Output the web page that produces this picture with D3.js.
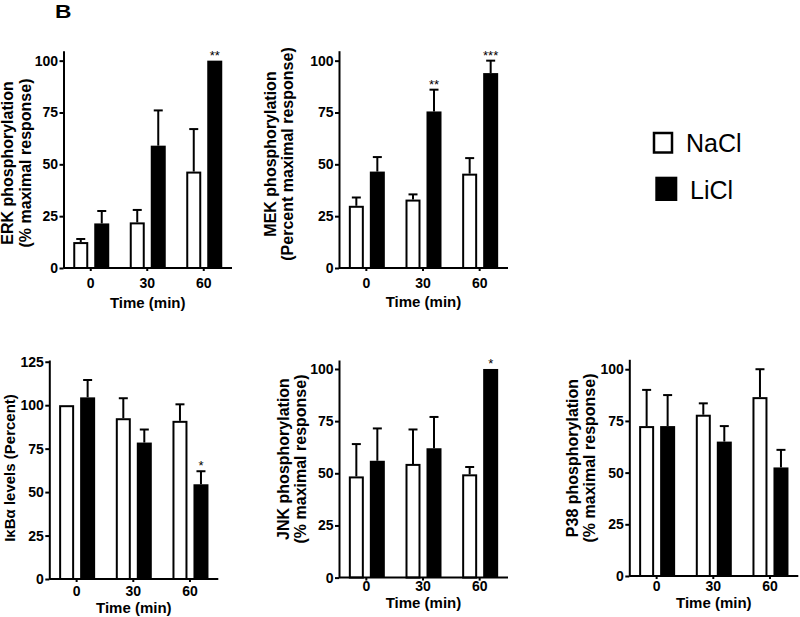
<!DOCTYPE html>
<html><head><meta charset="utf-8">
<script src="https://cdn.jsdelivr.net/npm/d3@7"></script>
<style>body{margin:0;background:#fff} svg{display:block;font-family:"Liberation Sans",Arial,sans-serif}</style>
</head><body>
<svg id="c" width="800" height="617"></svg>
<script>
// ---- data ----
const times = ["0", "30", "60"];
const groups = ["NaCl", "LiCl"];
const xTitle = "Time (min)";

const erkNaCl = [12.5, 22, 46.5];   const erkNaClErr = [1.5, 6, 20.5];
const erkLiCl = [21.5, 59, 100];    const erkLiClErr = [6, 17, 0];
const erkSig  = ["", "", "**"];

const mekNaCl = [30, 33, 45.5];     const mekNaClErr = [4, 2.5, 7.5];
const mekLiCl = [46.5, 75.5, 94];   const mekLiClErr = [7, 10.5, 6];
const mekSig  = ["", "**", "***"];

const ikbNaCl = [100, 92.5, 91];    const ikbNaClErr = [0, 11.5, 9.5];
const ikbLiCl = [104.5, 78.5, 54.5];const ikbLiClErr = [10, 7.5, 7.5];
const ikbSig  = ["", "", "*"];

const jnkNaCl = [48.5, 54.5, 49.5]; const jnkNaClErr = [15.5, 16.5, 3.5];
const jnkLiCl = [56, 62, 100];      const jnkLiClErr = [15.5, 15, 0];
const jnkSig  = ["", "", "*"];

const p38NaCl = [72.5, 78, 86.5];   const p38NaClErr = [17.5, 5.5, 13.5];
const p38LiCl = [72.5, 65, 52.5];   const p38LiClErr = [15, 7.5, 8.5];
const p38Sig  = ["", "", ""];

const ticks100 = [0, 25, 50, 75, 100];
const ticks125 = [0, 25, 50, 75, 100, 125];

// ---- layout ----
const panels = [
  {lab:["ERK phosphorylation","(% maximal response)"], nacl:erkNaCl, naclErr:erkNaClErr, licl:erkLiCl, liclErr:erkLiClErr, sig:erkSig, yTicks:ticks100,
   ymax:104.8, x0:63.5, x1:232, yb:268, yt:50.7, labX:[13.3,30.7], labY:163, labSize:16, tickBase:288, titleBase:307.5},
  {lab:["MEK phosphorylation","(Percent maximal response)"], nacl:mekNaCl, naclErr:mekNaClErr, licl:mekLiCl, liclErr:mekLiClErr, sig:mekSig, yTicks:ticks100,
   ymax:104.8, x0:339, x1:508, yb:268, yt:50.7, labX:[276,293], labY:154, labSize:16, tickBase:287.5, titleBase:307},
  {lab:["I\u03baB\u03b1 levels (Percent)"], nacl:ikbNaCl, naclErr:ikbNaClErr, licl:ikbLiCl, liclErr:ikbLiClErr, sig:ikbSig, yTicks:ticks125,
   ymax:126, x0:49.3, x1:218.3, yb:579, yt:360, labX:[15], labY:468, labSize:15, tickBase:595.5, titleBase:612.5},
  {lab:["JNK phosphorylation","(% maximal response)"], nacl:jnkNaCl, naclErr:jnkNaClErr, licl:jnkLiCl, liclErr:jnkLiClErr, sig:jnkSig, yTicks:ticks100,
   ymax:104.3, x0:339, x1:508, yb:577.6, yt:360, labX:[288.8,306], labY:459, labSize:16, tickBase:590.5, titleBase:607.5},
  {lab:["P38 phosphorylation","(% maximal response)"], nacl:p38NaCl, naclErr:p38NaClErr, licl:p38LiCl, liclErr:p38LiClErr, sig:p38Sig, yTicks:ticks100,
   ymax:104.8, x0:629.3, x1:798.3, yb:576, yt:359.3, labX:[578,595], labY:458, labSize:16, tickBase:590.5, titleBase:607.5}
];

const svg = d3.select("#c");

function drawPanel(p) {
  const g = svg.append("g");
  const x = d3.scaleBand().domain(times).range([p.x0 - 1, p.x1]).paddingInner(0).paddingOuter(0);
  const xs = d3.scaleBand().domain(groups).range([-17.5, 18.5]).paddingInner(6 / 21).paddingOuter(0);
  const y = d3.scaleLinear().domain([0, p.ymax]).range([p.yb, p.yt]);
  const bw = xs.bandwidth();
  const cx = t => x(t) + x.bandwidth() / 2;

  const rows = [];
  times.forEach((t, i) => {
    rows.push({t, s: "NaCl", v: p.nacl[i], e: p.naclErr[i]});
    rows.push({t, s: "LiCl", v: p.licl[i], e: p.liclErr[i]});
  });

  // bars
  g.selectAll("rect.bar").data(rows).join("rect")
    .attr("class", "bar")
    .attr("x", d => cx(d.t) + xs(d.s) + (d.s === "NaCl" ? 1 : 0))
    .attr("width", d => d.s === "NaCl" ? bw - 2 : bw)
    .attr("y", d => y(d.v) + (d.s === "NaCl" ? 1 : 0))
    .attr("height", d => p.yb - y(d.v) - (d.s === "NaCl" ? 1 : 0))
    .attr("fill", d => d.s === "NaCl" ? "#fff" : "#000")
    .attr("stroke", d => d.s === "NaCl" ? "#000" : "none")
    .attr("stroke-width", 2);

  // error bars (upper only)
  const eb = rows.filter(d => d.e > 0);
  g.selectAll("line.err").data(eb).join("line")
    .attr("class", "err")
    .attr("x1", d => cx(d.t) + xs(d.s) + bw / 2).attr("x2", d => cx(d.t) + xs(d.s) + bw / 2)
    .attr("y1", d => y(d.v)).attr("y2", d => y(d.v + d.e))
    .attr("stroke", "#000").attr("stroke-width", 2);
  g.selectAll("line.cap").data(eb).join("line")
    .attr("class", "cap")
    .attr("x1", d => cx(d.t) + xs(d.s) + bw / 2 - 4.5).attr("x2", d => cx(d.t) + xs(d.s) + bw / 2 + 4.5)
    .attr("y1", d => y(d.v + d.e)).attr("y2", d => y(d.v + d.e))
    .attr("stroke", "#000").attr("stroke-width", 2);

  // significance stars
  const sigRows = times.map((t, i) => ({t, s: p.sig[i], top: p.licl[i] + p.liclErr[i]})).filter(d => d.s);
  g.selectAll("text.sig").data(sigRows).join("text")
    .attr("class", "sig")
    .attr("x", d => cx(d.t) + xs("LiCl") + bw / 2)
    .attr("y", d => y(d.top) - 1)
    .attr("text-anchor", "middle")
    .attr("font-size", 13)
    .text(d => d.s);

  // y axis
  const ya = g.append("g").attr("transform", `translate(${p.x0},0)`)
    .call(d3.axisLeft(y).tickValues(p.yTicks).tickFormat(d3.format("d")).tickSize(4).tickPadding(1.5).tickSizeOuter(0));
  ya.select(".domain").attr("stroke-width", 2);
  ya.selectAll(".tick line").attr("stroke-width", 2);
  ya.selectAll(".tick text").attr("font-size", 14).attr("font-weight", "bold")
    .attr("font-family", '"Liberation Sans",Arial,sans-serif').attr("fill", "#000");

  // x axis
  const xa = g.append("g").attr("transform", `translate(0,${p.yb})`)
    .call(d3.axisBottom(x).tickSize(3).tickPadding(p.tickBase - p.yb - 3 - 9.94).tickSizeOuter(0));
  xa.select(".domain").remove();
  xa.append("line").attr("x1", p.x0).attr("x2", p.x1).attr("y1", 0).attr("y2", 0)
    .attr("stroke", "#000").attr("stroke-width", 2);
  xa.selectAll(".tick line").attr("stroke-width", 2);
  xa.selectAll(".tick text").attr("font-size", 14).attr("font-weight", "bold")
    .attr("font-family", '"Liberation Sans",Arial,sans-serif').attr("fill", "#000");

  // x title
  g.append("text").attr("x", (p.x0 + p.x1) / 2).attr("y", p.titleBase)
    .attr("text-anchor", "middle").attr("font-size", 15).attr("font-weight", "bold").text(xTitle);

  // y title
  p.lab.forEach((s, i) => {
    g.append("text").attr("transform", `translate(${p.labX[i]},${p.labY}) rotate(-90)`)
      .attr("text-anchor", "middle").attr("font-size", p.labSize).attr("font-weight", "bold").text(s);
  });
}

panels.forEach(drawPanel);

// panel letter
svg.append("text").attr("transform", "translate(55,18.3) scale(1.2,1)")
  .attr("font-size", 19).attr("font-weight", "bold").text("B");

// legend
const legend = svg.append("g");
legend.append("rect").attr("x", 654).attr("y", 133).attr("width", 18).attr("height", 19.5)
  .attr("fill", "#fff").attr("stroke", "#000").attr("stroke-width", 2.5);
legend.append("text").attr("x", 686).attr("y", 151.7).attr("font-size", 25).text(groups[0]);
legend.append("rect").attr("x", 655.3).attr("y", 176.7).attr("width", 22).attr("height", 24.3).attr("fill", "#000");
legend.append("text").attr("x", 690).attr("y", 199).attr("font-size", 25).text(groups[1]);
</script>
</body></html>
